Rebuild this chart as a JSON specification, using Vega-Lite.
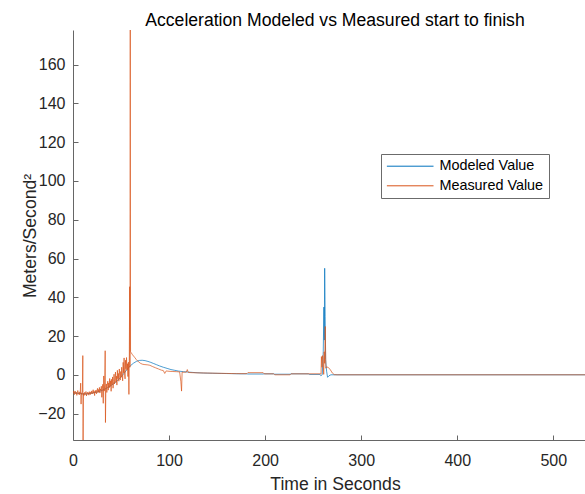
{
  "$schema": "https://vega.github.io/schema/vega-lite/v6.json",
  "autosize": {"type": "none"},
  "padding": {"left": 73, "top": 30, "right": 0, "bottom": 54},
  "width": 512,
  "height": 410,
  "background": "white",
  "title": {
    "text": "Acceleration Modeled vs Measured start to finish",
    "font": "Liberation Sans",
    "fontSize": 17.6,
    "fontWeight": "normal",
    "color": "#000000",
    "anchor": "middle",
    "frame": "group",
    "dx": 6,
    "dy": 20,
    "baseline": "alphabetic",
    "offset": 6
  },
  "config": {
    "view": {"stroke": null},
    "axis": {
      "grid": false,
      "labelFlush": false,
      "domainColor": "#666666",
      "tickColor": "#666666",
      "tickSize": -5,
      "labelFont": "Liberation Sans",
      "labelFontSize": 16,
      "labelColor": "#262626",
      "titleFont": "Liberation Sans",
      "titleFontSize": 17.6,
      "titleFontWeight": "normal",
      "titleColor": "#262626"
    }
  },
  "datasets": {
    "modeled": [
      {"t": 0, "v": -9.0}, {"t": 3, "v": -9.3}, {"t": 6, "v": -9.5}, {"t": 9, "v": -9.7},
      {"t": 12, "v": -9.8}, {"t": 15, "v": -9.7}, {"t": 18, "v": -9.5}, {"t": 21, "v": -9.2},
      {"t": 24, "v": -8.9}, {"t": 27, "v": -8.5}, {"t": 30, "v": -8.0}, {"t": 33, "v": -7.3},
      {"t": 36, "v": -6.5}, {"t": 39, "v": -5.6}, {"t": 42, "v": -4.6}, {"t": 45, "v": -3.4},
      {"t": 48, "v": -2.0}, {"t": 51, "v": -0.4}, {"t": 54, "v": 1.4}, {"t": 57, "v": 3.3},
      {"t": 60, "v": 4.9}, {"t": 63, "v": 6.1}, {"t": 66, "v": 7.0}, {"t": 69, "v": 7.5},
      {"t": 72, "v": 7.6}, {"t": 75, "v": 7.4}, {"t": 78, "v": 7.0}, {"t": 81, "v": 6.5},
      {"t": 84, "v": 5.9}, {"t": 87, "v": 5.3}, {"t": 90, "v": 4.7}, {"t": 94, "v": 4.0},
      {"t": 98, "v": 3.4}, {"t": 102, "v": 2.8}, {"t": 106, "v": 2.4}, {"t": 110, "v": 2.0},
      {"t": 115, "v": 1.7}, {"t": 120, "v": 1.5}, {"t": 128, "v": 1.2}, {"t": 136, "v": 1.0},
      {"t": 145, "v": 0.9}, {"t": 155, "v": 0.8}, {"t": 165, "v": 0.7}, {"t": 175, "v": 0.6},
      {"t": 181, "v": 0.6}, {"t": 182, "v": 0.5}, {"t": 198, "v": 0.5}, {"t": 199, "v": 0.6},
      {"t": 209, "v": 0.6}, {"t": 210, "v": 0.4}, {"t": 226, "v": 0.4}, {"t": 227, "v": 0.6},
      {"t": 245, "v": 0.6}, {"t": 246, "v": 0.3}, {"t": 257, "v": 0.3}, {"t": 258, "v": -0.4},
      {"t": 259.5, "v": 0.2}, {"t": 260.5, "v": 12}, {"t": 261.2, "v": 35}, {"t": 261.6, "v": 18},
      {"t": 262, "v": 55}, {"t": 262.5, "v": 30}, {"t": 263, "v": 8}, {"t": 264, "v": 2},
      {"t": 265, "v": -1.2}, {"t": 266.5, "v": -0.4}, {"t": 268.5, "v": 0.1}, {"t": 545, "v": 0.1}
    ],
    "measured": [
      {"t": 0, "v": -8.6}, {"t": 0.5, "v": -9.4}, {"t": 1, "v": -8.2}, {"t": 1.5, "v": -10.1},
      {"t": 2, "v": -9.0}, {"t": 2.5, "v": -8.4}, {"t": 3, "v": -9.8}, {"t": 3.5, "v": -8.9},
      {"t": 4, "v": -10.5}, {"t": 4.5, "v": -9.2}, {"t": 5, "v": -8.0}, {"t": 5.5, "v": -9.6},
      {"t": 6, "v": -9.1}, {"t": 6.5, "v": -10.3}, {"t": 7, "v": -8.7}, {"t": 7.5, "v": -9.5},
      {"t": 8, "v": -4.2}, {"t": 8.4, "v": -15.0}, {"t": 8.8, "v": -9.2}, {"t": 9.3, "v": -10.0},
      {"t": 9.8, "v": -8.8}, {"t": 10.2, "v": 10.0}, {"t": 10.5, "v": -33.5}, {"t": 10.9, "v": -9.5},
      {"t": 11.4, "v": -10.6}, {"t": 12, "v": -9.0}, {"t": 12.5, "v": -10.2}, {"t": 13, "v": -9.4},
      {"t": 13.5, "v": -8.5}, {"t": 14, "v": -10.8}, {"t": 14.5, "v": -9.6}, {"t": 15, "v": -8.9},
      {"t": 15.5, "v": -9.9}, {"t": 16, "v": -9.1}, {"t": 16.5, "v": -10.4}, {"t": 17, "v": -8.6},
      {"t": 17.5, "v": -9.3}, {"t": 18, "v": -10.1}, {"t": 18.5, "v": -8.7}, {"t": 19, "v": -9.5},
      {"t": 19.5, "v": -8.2}, {"t": 20, "v": -9.8}, {"t": 20.5, "v": -8.9}, {"t": 21, "v": -7.6},
      {"t": 21.5, "v": -9.4}, {"t": 22, "v": -8.5}, {"t": 22.5, "v": -10.6}, {"t": 23, "v": -8.1},
      {"t": 23.5, "v": -9.0}, {"t": 24, "v": -7.8}, {"t": 24.5, "v": -9.7}, {"t": 25, "v": -8.3},
      {"t": 25.5, "v": -6.9}, {"t": 26, "v": -9.1}, {"t": 26.5, "v": -7.5}, {"t": 27, "v": -8.8},
      {"t": 27.5, "v": -6.4}, {"t": 28, "v": -9.3}, {"t": 28.5, "v": -7.2}, {"t": 29, "v": -8.0},
      {"t": 29.5, "v": -5.8}, {"t": 30, "v": -11.5}, {"t": 30.5, "v": -7.1}, {"t": 31, "v": -4.8},
      {"t": 31.5, "v": -14.6}, {"t": 32, "v": -0.5}, {"t": 32.5, "v": -8.3}, {"t": 33, "v": -5.1},
      {"t": 33.5, "v": 12.5}, {"t": 33.8, "v": -24.5}, {"t": 34.2, "v": -7.2}, {"t": 34.7, "v": -4.6},
      {"t": 35.2, "v": -9.0}, {"t": 35.7, "v": -5.5}, {"t": 36.2, "v": -3.2}, {"t": 36.7, "v": -7.8},
      {"t": 37.2, "v": -4.1}, {"t": 37.7, "v": -6.6}, {"t": 38.2, "v": -1.8}, {"t": 38.7, "v": -5.9},
      {"t": 39.2, "v": -3.0}, {"t": 39.7, "v": -8.4}, {"t": 40.2, "v": -2.2}, {"t": 40.7, "v": -5.0},
      {"t": 41.2, "v": -1.0}, {"t": 41.7, "v": -6.8}, {"t": 42.2, "v": -3.4}, {"t": 42.7, "v": 0.4},
      {"t": 43.2, "v": -4.6}, {"t": 43.7, "v": -2.1}, {"t": 44.2, "v": 1.5}, {"t": 44.7, "v": -3.8},
      {"t": 45.2, "v": -0.6}, {"t": 45.7, "v": -5.2}, {"t": 46.2, "v": 2.4}, {"t": 46.7, "v": -1.9},
      {"t": 47.2, "v": 0.8}, {"t": 47.7, "v": -3.2}, {"t": 48.2, "v": 3.1}, {"t": 48.7, "v": -0.4},
      {"t": 49.2, "v": -2.6}, {"t": 49.7, "v": 1.8}, {"t": 50.2, "v": -1.2}, {"t": 50.7, "v": 4.0},
      {"t": 51.2, "v": 0.2}, {"t": 51.7, "v": -3.0}, {"t": 52.2, "v": 6.5}, {"t": 52.7, "v": 1.1},
      {"t": 53.2, "v": 8.8}, {"t": 53.7, "v": 0.6}, {"t": 54.2, "v": -2.0}, {"t": 54.7, "v": 7.6},
      {"t": 55.2, "v": 3.2}, {"t": 55.7, "v": 9.0}, {"t": 56.2, "v": 2.5}, {"t": 56.7, "v": 5.8},
      {"t": 57.2, "v": -0.8}, {"t": 57.7, "v": 6.6}, {"t": 58.2, "v": -10.0}, {"t": 58.6, "v": 7.4},
      {"t": 59.0, "v": 45.5}, {"t": 59.3, "v": 4.0}, {"t": 59.6, "v": 177.8}, {"t": 59.9, "v": 12.0},
      {"t": 60.4, "v": 11.6}, {"t": 62, "v": 10.4}, {"t": 64, "v": 9.2}, {"t": 66, "v": 7.9},
      {"t": 68, "v": 6.9}, {"t": 70, "v": 6.1}, {"t": 72, "v": 5.6}, {"t": 74, "v": 5.4},
      {"t": 76, "v": 5.3}, {"t": 78, "v": 5.2}, {"t": 80, "v": 5.0}, {"t": 83, "v": 4.3},
      {"t": 86, "v": 3.7}, {"t": 89, "v": 3.1}, {"t": 92, "v": 2.5}, {"t": 94, "v": 2.3},
      {"t": 95.5, "v": 0.8}, {"t": 97, "v": 2.1}, {"t": 100, "v": 1.9}, {"t": 104, "v": 1.8},
      {"t": 108, "v": 1.7}, {"t": 111, "v": 1.6}, {"t": 112.3, "v": -3.5}, {"t": 113, "v": -8.3},
      {"t": 113.6, "v": 1.5}, {"t": 116, "v": 1.4}, {"t": 118, "v": 1.5}, {"t": 119, "v": 2.8},
      {"t": 120, "v": 1.3}, {"t": 124, "v": 1.2}, {"t": 130, "v": 1.1}, {"t": 140, "v": 1.0},
      {"t": 150, "v": 0.9}, {"t": 160, "v": 0.8}, {"t": 170, "v": 0.7}, {"t": 181, "v": 0.7},
      {"t": 182, "v": 1.2}, {"t": 198, "v": 1.2}, {"t": 199, "v": 0.6}, {"t": 209, "v": 0.6},
      {"t": 210, "v": 0.1}, {"t": 226, "v": 0.1}, {"t": 227, "v": 0.6}, {"t": 257.5, "v": 0.6},
      {"t": 258.2, "v": 0.4}, {"t": 258.6, "v": 9.5}, {"t": 259.2, "v": 4.0}, {"t": 259.8, "v": 10.0},
      {"t": 260.4, "v": 8.0}, {"t": 261, "v": 0.3}, {"t": 261.5, "v": 12.0}, {"t": 262, "v": 6.0},
      {"t": 262.6, "v": 25.0}, {"t": 263.2, "v": 3.5}, {"t": 264, "v": 4.2}, {"t": 266, "v": 3.8},
      {"t": 268, "v": 2.6}, {"t": 270, "v": 1.0}, {"t": 272, "v": 0.2}, {"t": 275, "v": 0.1},
      {"t": 545, "v": 0.1}
    ]
  },
  "encoding": {
    "x": {
      "field": "t",
      "type": "quantitative",
      "scale": {"domain": [0, 533], "nice": false, "zero": false},
      "axis": {
        "values": [0, 100, 200, 300, 400, 500],
        "labelPadding": 30,
        "labelBaseline": "alphabetic",
        "title": "Time in Seconds",
        "titleX": 262,
        "titleY": 49,
        "titleAlign": "center",
        "titleBaseline": "alphabetic"
      }
    },
    "y": {
      "field": "v",
      "type": "quantitative",
      "scale": {"domain": [-33.5, 177.8], "nice": false, "zero": false},
      "axis": {
        "values": [-20, 0, 20, 40, 60, 80, 100, 120, 140, 160],
        "labelPadding": 13,
        "title": "Meters/Second²",
        "titleX": -37.5,
        "titleY": 205.5,
        "titleAlign": "center",
        "titleBaseline": "alphabetic"
      }
    }
  },
  "layer": [
    {
      "data": {"name": "modeled"},
      "mark": {"type": "line", "strokeWidth": 0.7, "clip": true},
      "encoding": {
        "color": {
          "datum": "Modeled Value",
          "type": "nominal",
          "scale": {"domain": ["Modeled Value", "Measured Value"], "range": ["#0072BD", "#D95319"]},
          "legend": {
            "title": null,
            "orient": "none",
            "legendX": 308,
            "legendY": 124,
            "symbolType": "M-4,0H4",
            "symbolSize": 136,
            "symbolStrokeWidth": 1,
            "symbolOffset": 17,
            "labelOffset": 22,
            "labelFont": "Liberation Sans",
            "labelFontSize": 14.4,
            "labelColor": "#000000",
            "padding": 5,
            "rowPadding": 4.6,
            "strokeColor": "#6b6b6b",
            "fillColor": "white"
          }
        }
      }
    },
    {
      "data": {"name": "measured"},
      "mark": {"type": "line", "strokeWidth": 0.7, "clip": true},
      "encoding": {
        "color": {"datum": "Measured Value", "type": "nominal"}
      }
    }
  ]
}
